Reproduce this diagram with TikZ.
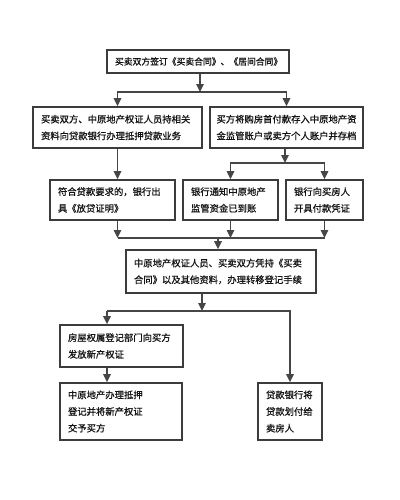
\documentclass[tikz,border=0pt]{standalone}
\usepackage{fontspec}
\newfontfamily\cjk[FakeBold=0.8]{Noto Sans CJK SC}
\usetikzlibrary{arrows.meta}

\tikzset{every picture/.style={line width=1.2pt}}
\tikzset{
  box/.style={draw={rgb,255:red,60;green,60;blue,60}, rectangle, align=left,
    inner xsep=6pt, inner ysep=2pt, font=\cjk\fontsize{7}{12.5}\selectfont,
    text={rgb,255:red,20;green,20;blue,20}},
  arr/.style={draw={rgb,255:red,70;green,70;blue,70}, -{Triangle[width=5.5pt,length=6pt]}},
  ln/.style={draw={rgb,255:red,70;green,70;blue,70}}
}

\begin{document}
\begin{tikzpicture}[x=0.75pt,y=0.75pt,yscale=-1,xscale=1]
	\useasboundingbox (0,0) rectangle (400,500);

	% Boxes
	\node [box, align=center, text width=124.5pt, minimum height=17.25pt, font=\cjk\fontsize{6.6}{10}\selectfont] (sign) at (198,61.5) {买卖双方签订《买卖合同》、《居间合同》};
	\node [box, text width=114.75pt, minimum height=30.75pt] (loan) at (117.5,127.5) {买卖双方、中原地产权证人员持相关\\资料向贷款银行办理抵押贷款业务};
	\node [box, text width=105pt, inner xsep=4.875pt, minimum height=30.75pt] (deposit) at (286.5,127.5) {买方将购房首付款存入中原地产资\\金监管账户或卖方个人账户并存档};
	\node [box, text width=81.75pt, minimum height=30pt] (proof) at (112.5,200) {符合贷款要求的，银行出\\具《放贷证明》};
	\node [box, text width=59.25pt, minimum height=30pt] (notice) at (230.5,200) {银行通知中原地产\\监管资金已到账};
	\node [box, text width=45.75pt, minimum height=30pt] (receipt) at (324.5,200) {银行向买房人\\开具付款凭证};
	\node [box, text width=130.5pt, minimum height=32.25pt] (transfer) at (221,271.5) {中原地产权证人员、买卖双方凭持《买卖\\合同》以及其他资料，办理转移登记手续};
	\node [box, text width=80.25pt, minimum height=31.5pt] (cert) at (121.5,346) {房屋权属登记部门向买方\\发放新产权证};
	\node [box, text width=79.5pt, minimum height=42.75pt] (mortgage) at (121,411.5) {中原地产办理抵押\\登记并将新产权证\\交予买方};
	\node [box, text width=36pt, minimum height=42.75pt] (payout) at (290,411.5) {贷款银行将\\贷款划付给\\卖房人};

	% Junctions
	\coordinate (split1) at (200,92);
	\coordinate (split2) at (285,163);
	\coordinate (merge) at (218,238);
	\coordinate (split3) at (202,311);
	\coordinate (left3) at (107,311);

	% Connectors
	\draw [arr] (sign.south -| split1) -- (split1);
	\draw [arr] (split1) -| (loan);
	\draw [arr] (split1) -| (deposit);
	\draw [arr] (loan.south) -- (loan.south |- proof.north);
	\draw [arr] (deposit.south -| split2) -- (split2);
	\draw [arr] (split2) -| (notice);
	\draw [arr] (split2) -| (receipt);
	\draw [arr] (proof.south -| loan.south) -- (loan.south |- merge);
	\draw [arr] (notice.south) -- (notice.south |- merge);
	\draw [arr] (receipt.south) -- (receipt.south |- merge);
	\draw [ln] (loan.south |- merge) -- (receipt.south |- merge);
	\draw [arr] (merge) -- (merge |- transfer.north);
	\draw [arr] (transfer.south -| split3) -- (split3);
	\draw [ln] (split3) -- (left3);
	\draw [arr] (left3) -- (left3 |- cert.north);
	\draw [arr] (split3) -| (payout);
	\draw [arr] (cert.south -| left3) -- (mortgage.north -| left3);

\end{tikzpicture}
\end{document}
